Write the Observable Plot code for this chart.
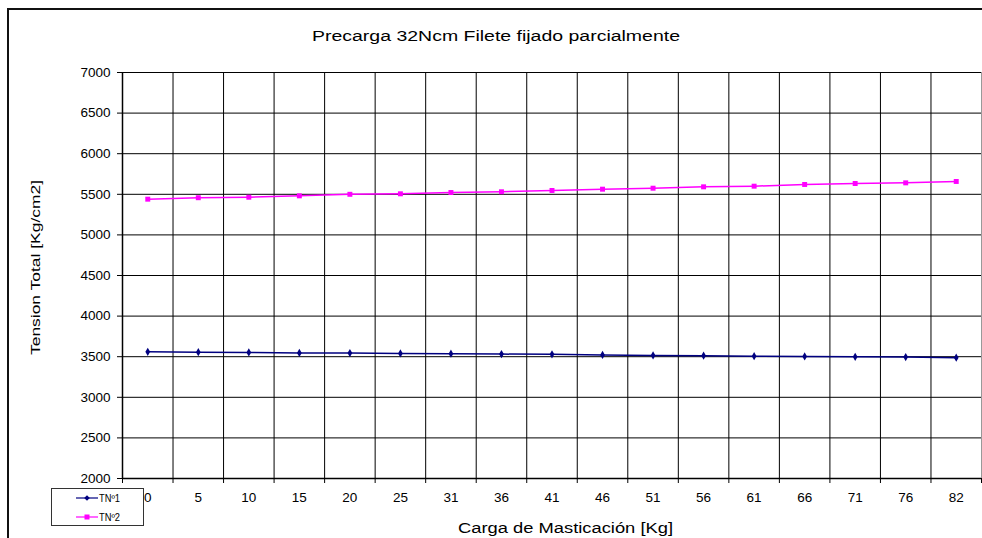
<!DOCTYPE html>
<html>
<head>
<meta charset="utf-8">
<script src="https://cdn.jsdelivr.net/npm/d3@7"></script>
<script src="https://cdn.jsdelivr.net/npm/@observablehq/plot@0.6"></script>
<style>
  html, body { margin: 0; padding: 0; background: #fff; }
  #chart { position: relative; width: 982px; height: 538px; overflow: hidden; }
</style>
</head>
<body>
<div id="chart"></div>
<script>
const categories = ["0","5","10","15","20","25","31","36","41","46","51","56","61","66","71","76","82"];
const tn1 = [3560, 3555, 3552, 3547, 3545, 3540, 3537, 3532, 3530, 3522, 3515, 3512, 3506, 3503, 3498, 3495, 3488];
const tn2 = [5440, 5458, 5464, 5481, 5500, 5506, 5522, 5531, 5547, 5563, 5575, 5592, 5600, 5621, 5633, 5641, 5658];
const yTicks = [2000, 2500, 3000, 3500, 4000, 4500, 5000, 5500, 6000, 6500, 7000];
const seriesNames = ["TNº1", "TNº2"];
const seriesColors = ["#000080", "#ff00ff"];

const rows1 = categories.map((c, i) => ({i: i + 0.5, v: tn1[i]}));
const rows2 = categories.map((c, i) => ({i: i + 0.5, v: tn2[i]}));
const centers = categories.map((c, i) => i + 0.5);
const bounds = d3.range(0, categories.length + 1);

const font = "'Liberation Sans', Arial, sans-serif";

const chart = Plot.plot({
  width: 982,
  height: 538,
  marginLeft: 122,
  marginRight: 1,
  marginTop: 72,
  marginBottom: 60,
  style: {fontFamily: font, fontSize: "13px", background: "#fff", color: "#000"},
  x: {type: "linear", domain: [0, categories.length], axis: null},
  y: {domain: [2000, 7000], axis: null},
  marks: [
    Plot.ruleY(yTicks, {stroke: "#000", strokeWidth: 1}),
    Plot.ruleX(bounds.slice(1, -1), {stroke: "#000", strokeWidth: 1}),
    Plot.ruleX([categories.length], {stroke: "#999", strokeWidth: 1}),
    Plot.ruleX([0], {stroke: "#000", strokeWidth: 1.5}),
    Plot.ruleY([2000], {stroke: "#000", strokeWidth: 1.5}),
    Plot.axisY(yTicks, {label: null, tickSize: 5, tickPadding: 7, tickFormat: d => String(d), fontSize: 13.5, stroke: "#000"}),
    Plot.axisX(bounds, {label: null, tickSize: 5, tickFormat: () => "", stroke: "#000"}),
    Plot.axisX(centers, {label: null, tickSize: 0, tickPadding: 14, tickFormat: d => categories[Math.round(d - 0.5)], fontSize: 13.5}),
    Plot.line(rows1, {x: "i", y: "v", stroke: seriesColors[0], strokeWidth: 1.5}),
    Plot.dot(rows1, {x: "i", y: "v", fill: seriesColors[0], r: 2.5, symbol: "diamond"}),
    Plot.line(rows2, {x: "i", y: "v", stroke: seriesColors[1], strokeWidth: 1.5}),
    Plot.dot(rows2, {x: "i", y: "v", fill: seriesColors[1], r: 2.8, symbol: "square"})
  ]
});

document.getElementById("chart").appendChild(chart);

const svg = d3.select(chart);
// outer border
svg.append("rect")
  .attr("x", 8).attr("y", 9).attr("width", 990).attr("height", 540)
  .attr("fill", "none").attr("stroke", "#111").attr("stroke-width", 2);
// title
svg.append("text")
  .attr("x", 312).attr("y", 41)
  .attr("text-anchor", "start")
  .attr("textLength", 368).attr("lengthAdjust", "spacingAndGlyphs")
  .attr("font-family", font).attr("font-size", 15.5).attr("fill", "#000")
  .text("Precarga 32Ncm Filete fijado parcialmente");
// y label
svg.append("text")
  .attr("transform", "translate(40,355) rotate(-90)")
  .attr("text-anchor", "start")
  .attr("textLength", 175).attr("lengthAdjust", "spacingAndGlyphs")
  .attr("font-family", font).attr("font-size", 13.5).attr("fill", "#000")
  .text("Tension Total [Kg/cm2]");
// x label
svg.append("text")
  .attr("x", 458).attr("y", 533)
  .attr("text-anchor", "start")
  .attr("textLength", 215).attr("lengthAdjust", "spacingAndGlyphs")
  .attr("font-family", font).attr("font-size", 14).attr("fill", "#000")
  .text("Carga de Masticación [Kg]");
// legend
const lg = svg.append("g");
lg.append("rect").attr("x", 51.5).attr("y", 488.5).attr("width", 92).attr("height", 37)
  .attr("fill", "#fff").attr("stroke", "#333").attr("stroke-width", 1);
seriesNames.forEach((name, k) => {
  const yy = 498 + k * 19;
  lg.append("line").attr("x1", 76).attr("x2", 98).attr("y1", yy).attr("y2", yy)
    .attr("stroke", seriesColors[k]).attr("stroke-width", 1.2);
  if (k === 0) {
    lg.append("path").attr("d", d3.symbol(d3.symbolDiamond2 || d3.symbolDiamond, 20)()).attr("transform", `translate(87,${yy})`).attr("fill", seriesColors[k]);
  } else {
    lg.append("rect").attr("x", 84.5).attr("y", yy - 2.5).attr("width", 5).attr("height", 5).attr("fill", seriesColors[k]);
  }
  lg.append("text").attr("x", 99).attr("y", yy + 3.5)
    .attr("text-anchor", "start")
    .attr("textLength", 21).attr("lengthAdjust", "spacingAndGlyphs")
    .attr("font-family", font).attr("font-size", 10).attr("fill", "#000")
    .text(name);
});
</script>
</body>
</html>
